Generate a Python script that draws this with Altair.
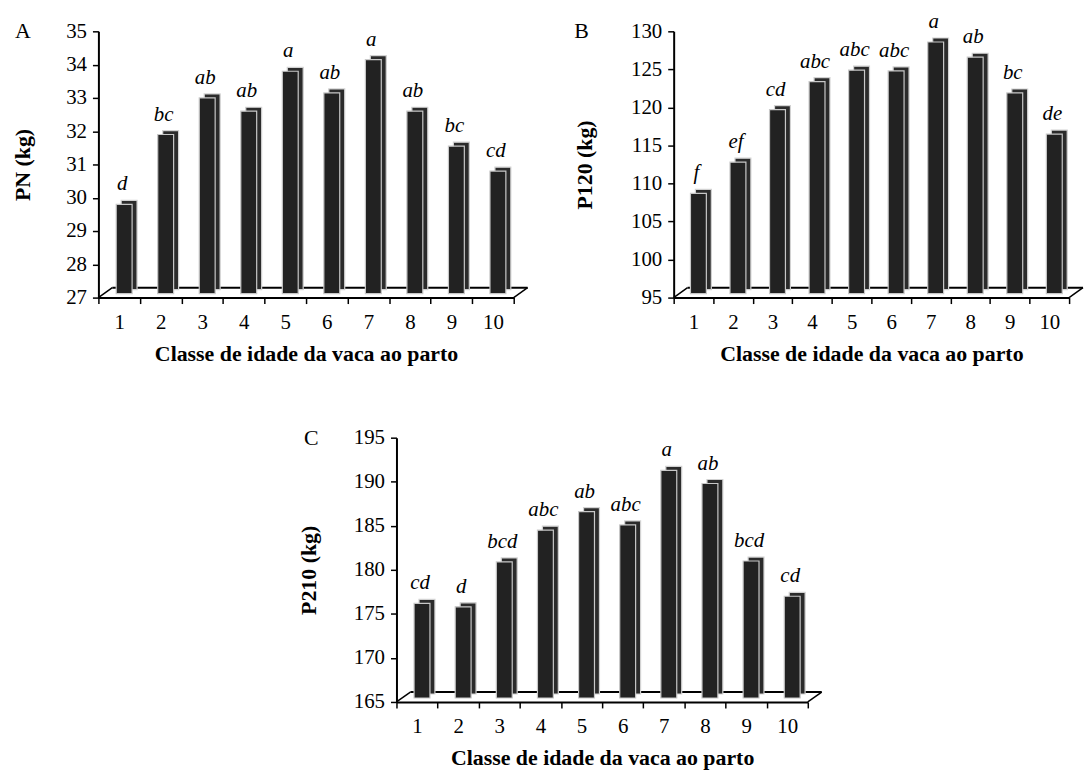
import altair as alt
import pandas as pd

# ---- data -------------------------------------------------------------
classes = ["1", "2", "3", "4", "5", "6", "7", "8", "9", "10"]

pn_values = [29.8, 31.9, 33.0, 32.6, 33.8, 33.15, 34.15, 32.6, 31.55, 30.8]
pn_letters = ["d", "bc", "ab", "ab", "a", "ab", "a", "ab", "bc", "cd"]

p120_values = [108.7, 112.8, 119.7, 123.4, 124.9, 124.8, 128.6, 126.6, 121.9, 116.5]
p120_letters = ["f", "ef", "cd", "abc", "abc", "abc", "a", "ab", "bc", "de"]

p210_values = [176.2, 175.8, 180.9, 184.5, 186.6, 185.1, 191.3, 189.8, 181.0, 177.0]
p210_letters = ["cd", "d", "bcd", "abc", "ab", "abc", "a", "ab", "bcd", "cd"]

x_title = "Classe de idade da vaca ao parto"

SERIF = "Liberation Serif"
DEPTH_X = 14
DEPTH_Y = 10


def panel(values, letters, ymin, ymax, step, w, h, ytitle, plabel,
          plabel_x, ytitle_x, x_title_y):
    df = pd.DataFrame({"Classe": classes, "v": values, "L": letters})
    one = pd.DataFrame({"b": [ymin]})

    X = alt.X(
        "Classe:O", sort=classes,
        scale=alt.Scale(paddingInner=0, paddingOuter=0),
        axis=alt.Axis(
            title=x_title, labelAngle=0, tickBand="extent", tickSize=6,
            tickColor="black", tickWidth=1.5, domainColor="black", domainWidth=2,
            labelFont=SERIF, labelFontSize=21, labelColor="black", labelPadding=8,
            labelOverlap=False,
            titleFont=SERIF, titleFontSize=22, titleFontWeight="bold", titleColor="black",
            titleX=w / 2, titleY=x_title_y, titleBaseline="middle",
        ),
    )
    yscale = alt.Scale(domain=[ymin, ymax], nice=False, zero=False)
    yaxis = alt.Axis(
        title=ytitle, values=list(range(ymin, ymax + 1, step)), grid=False,
        tickSize=6, tickColor="black", tickWidth=1.5, domainColor="black", domainWidth=2,
        labelFont=SERIF, labelFontSize=21, labelColor="black", labelPadding=6,
        labelOverlap=False,
        titleFont=SERIF, titleFontSize=22, titleFontWeight="bold", titleColor="black",
        titleX=ytitle_x, titleY=h / 2, titleAngle=270, titleBaseline="middle",
        titleAlign="center",
    )
    Y = alt.Y("v:Q", scale=yscale, axis=yaxis)
    Yfloor = alt.YDatum(ymin, scale=yscale, axis=yaxis, type="quantitative")

    base = alt.Chart(df)
    floor = alt.Chart(one)

    back_line = floor.mark_rule(color="black", strokeWidth=2, yOffset=-DEPTH_Y).encode(
        x=alt.value(DEPTH_X), x2=alt.value(w + DEPTH_X), y=Yfloor
    )
    left_diag = floor.mark_rule(color="black", strokeWidth=1.5, y2Offset=-DEPTH_Y).encode(
        x=alt.value(0), x2=alt.value(DEPTH_X), y=Yfloor, y2=alt.datum(ymin)
    )
    right_diag = floor.mark_rule(color="black", strokeWidth=1.5, y2Offset=-DEPTH_Y).encode(
        x=alt.value(w), x2=alt.value(w + DEPTH_X), y=Yfloor, y2=alt.datum(ymin)
    )

    side = base.mark_bar(
        width=16, xOffset=10, yOffset=-4, y2Offset=-8,
        fill="#2b2b2b", stroke="#d2d2d2", strokeWidth=1.2,
    ).encode(x=X, y=Y, y2=alt.datum(ymin))
    front = base.mark_bar(
        width=16, xOffset=5, y2Offset=-4,
        fill="#222222", stroke="#c8c8c8", strokeWidth=1.2,
    ).encode(x=X, y=Y, y2=alt.datum(ymin))
    labels = base.mark_text(
        font=SERIF, fontSize=21, fontStyle="italic", color="black",
        baseline="alphabetic", dy=-14, xOffset=3,
    ).encode(x=X, y=Y, text="L:N")
    tag = floor.mark_text(
        text=plabel, font=SERIF, fontSize=22, color="black",
        align="left", baseline="middle",
    ).encode(x=alt.value(plabel_x), y=alt.value(0))

    return alt.layer(back_line, left_diag, right_diag, side, front, labels, tag).properties(
        width=w, height=h
    )


A = panel(pn_values, pn_letters, 27, 35, 1, 418, 268, "PN (kg)", "A", -84, -76, 56)
B = panel(p120_values, p120_letters, 95, 130, 5, 398, 268, "P120 (kg)", "B", -100, -90, 56)
C = panel(p210_values, p210_letters, 165, 195, 5, 414, 266, "P210 (kg)", "C", -93, -88, 56)

spacer = alt.Chart(pd.DataFrame({"z": [0]})).mark_point(opacity=0, size=0).encode(
    x=alt.value(0), y=alt.value(0)
).properties(width=192, height=20)

row1 = alt.hconcat(A, B, spacing=45)
row2 = alt.hconcat(spacer, C, spacing=9)

chart = alt.vconcat(row1, row2, spacing=63).properties(
    padding={"left": 4, "top": 0, "right": 0, "bottom": 0},
    background="white",
).configure_view(stroke=None)

chart.save("out.html", embed_options={"renderer": "svg", "actions": False})
